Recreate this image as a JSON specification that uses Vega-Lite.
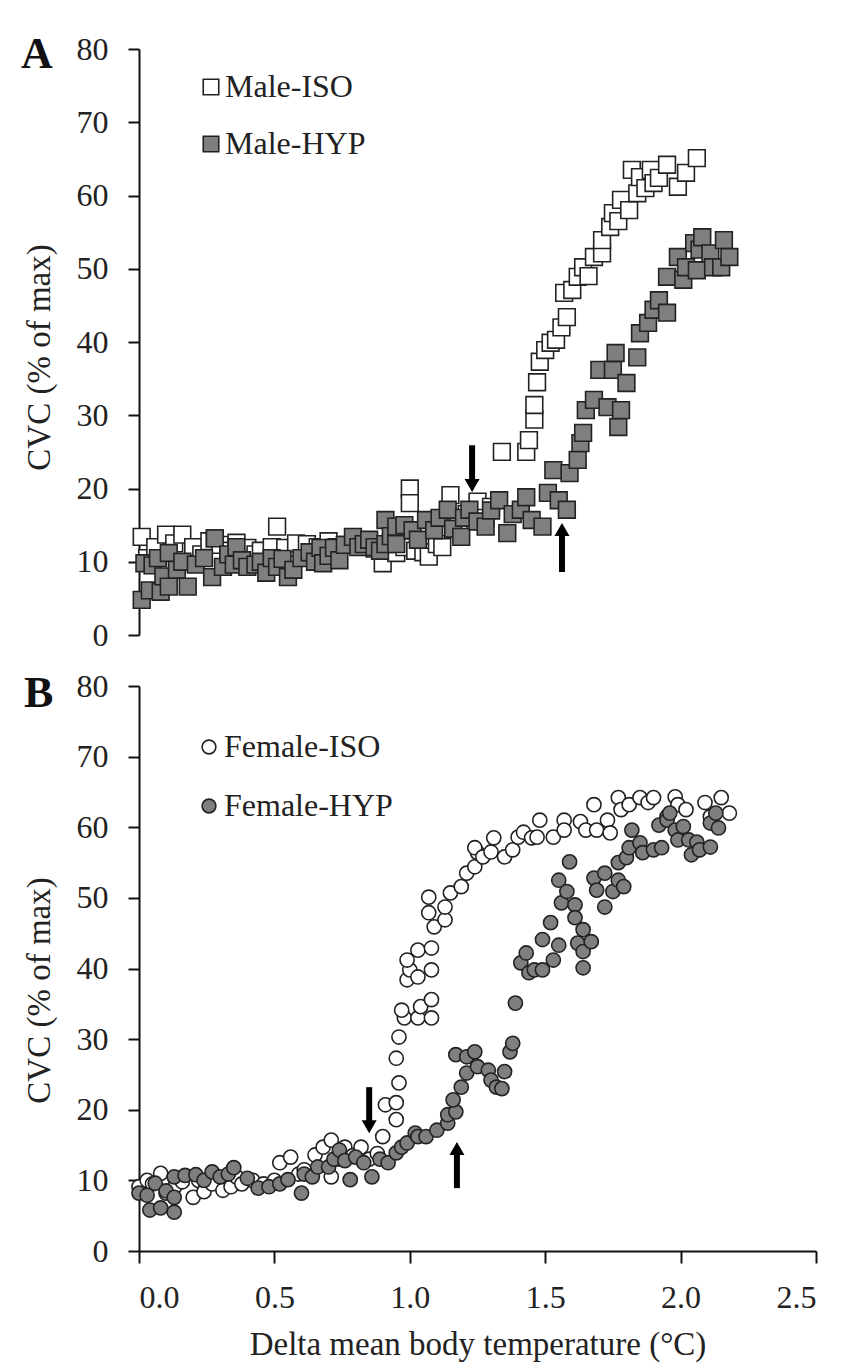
{
"$schema": "https://vega.github.io/schema/vega-lite/v6.json",
"background": "white",
"padding": {"left": 21, "top": 33, "right": 5, "bottom": 5},
"config": {
 "view": {"stroke": null},
 "font": "Liberation Serif",
 "axis": {"domainColor": "#111", "domainWidth": 2, "tickColor": "#111", "tickWidth": 2, "grid": false, "labelFont": "Liberation Serif", "labelFontSize": 32, "labelColor": "#222", "titleFont": "Liberation Serif", "titleFontSize": 33, "titleFontWeight": "normal", "titleColor": "#222"},
 "legend": {"labelFont": "Liberation Serif", "labelFontSize": 32, "labelColor": "#222", "labelLimit": 400, "symbolStrokeColor": "#222", "symbolStrokeWidth": 1.6, "rowPadding": 25, "padding": 0, "title": null},
 "title": {"font": "Liberation Serif", "fontSize": 44, "fontWeight": "bold", "color": "#111", "anchor": "start", "frame": "group"}
},
"datasets": {
 "male": [
  {"s":"Male-ISO","x":0.01,"y":13.4},{"s":"Male-ISO","x":0.03,"y":10.5},{"s":"Male-ISO","x":0.06,"y":12.0},{"s":"Male-ISO","x":0.10,"y":13.7},{"s":"Male-ISO","x":0.13,"y":12.5},{"s":"Male-ISO","x":0.16,"y":13.7},{"s":"Male-ISO","x":0.20,"y":12.0},{"s":"Male-ISO","x":0.23,"y":11.0},{"s":"Male-ISO","x":0.26,"y":12.8},{"s":"Male-ISO","x":0.28,"y":13.2},{"s":"Male-ISO","x":0.30,"y":12.3},{"s":"Male-ISO","x":0.33,"y":11.5},{"s":"Male-ISO","x":0.36,"y":12.6},{"s":"Male-ISO","x":0.40,"y":11.9},{"s":"Male-ISO","x":0.43,"y":11.0},{"s":"Male-ISO","x":0.45,"y":11.5},{"s":"Male-ISO","x":0.49,"y":12.0},{"s":"Male-ISO","x":0.51,"y":14.8},{"s":"Male-ISO","x":0.54,"y":11.9},{"s":"Male-ISO","x":0.58,"y":12.5},{"s":"Male-ISO","x":0.62,"y":12.4},{"s":"Male-ISO","x":0.66,"y":12.0},{"s":"Male-ISO","x":0.70,"y":12.8},{"s":"Male-ISO","x":0.73,"y":12.0},{"s":"Male-ISO","x":0.77,"y":12.3},{"s":"Male-ISO","x":0.80,"y":12.9},{"s":"Male-ISO","x":0.83,"y":12.5},{"s":"Male-ISO","x":0.87,"y":11.8},{"s":"Male-ISO","x":0.90,"y":9.8},{"s":"Male-ISO","x":0.93,"y":12.6},{"s":"Male-ISO","x":0.95,"y":11.2},{"s":"Male-ISO","x":0.98,"y":12.0},{"s":"Male-ISO","x":1.00,"y":20.0},{"s":"Male-ISO","x":1.00,"y":18.0},{"s":"Male-ISO","x":1.02,"y":11.5},{"s":"Male-ISO","x":1.05,"y":11.3},{"s":"Male-ISO","x":1.07,"y":10.7},{"s":"Male-ISO","x":1.10,"y":12.4},{"s":"Male-ISO","x":1.12,"y":12.0},{"s":"Male-ISO","x":1.15,"y":19.1},{"s":"Male-ISO","x":1.18,"y":15.0},{"s":"Male-ISO","x":1.21,"y":16.5},{"s":"Male-ISO","x":1.25,"y":18.2},{"s":"Male-ISO","x":1.28,"y":16.0},{"s":"Male-ISO","x":1.30,"y":17.5},{"s":"Male-ISO","x":1.34,"y":25.0},{"s":"Male-ISO","x":1.43,"y":25.0},{"s":"Male-ISO","x":1.44,"y":26.6},{"s":"Male-ISO","x":1.46,"y":29.4},{"s":"Male-ISO","x":1.46,"y":31.4},{"s":"Male-ISO","x":1.47,"y":34.5},{"s":"Male-ISO","x":1.48,"y":37.3},{"s":"Male-ISO","x":1.50,"y":38.9},{"s":"Male-ISO","x":1.52,"y":39.9},{"s":"Male-ISO","x":1.54,"y":40.3},{"s":"Male-ISO","x":1.56,"y":42.0},{"s":"Male-ISO","x":1.58,"y":43.4},{"s":"Male-ISO","x":1.57,"y":46.7},{"s":"Male-ISO","x":1.60,"y":47.1},{"s":"Male-ISO","x":1.62,"y":48.9},{"s":"Male-ISO","x":1.64,"y":50.2},{"s":"Male-ISO","x":1.66,"y":49.0},{"s":"Male-ISO","x":1.68,"y":51.6},{"s":"Male-ISO","x":1.71,"y":52.1},{"s":"Male-ISO","x":1.71,"y":53.9},{"s":"Male-ISO","x":1.74,"y":55.7},{"s":"Male-ISO","x":1.75,"y":57.6},{"s":"Male-ISO","x":1.77,"y":56.5},{"s":"Male-ISO","x":1.78,"y":59.4},{"s":"Male-ISO","x":1.81,"y":58.0},{"s":"Male-ISO","x":1.82,"y":63.5},{"s":"Male-ISO","x":1.84,"y":60.3},{"s":"Male-ISO","x":1.85,"y":62.5},{"s":"Male-ISO","x":1.87,"y":61.0},{"s":"Male-ISO","x":1.89,"y":63.5},{"s":"Male-ISO","x":1.90,"y":61.7},{"s":"Male-ISO","x":1.92,"y":62.4},{"s":"Male-ISO","x":1.95,"y":64.2},{"s":"Male-ISO","x":1.99,"y":61.2},{"s":"Male-ISO","x":2.02,"y":63.1},{"s":"Male-ISO","x":2.06,"y":65.1},
  {"s":"Male-HYP","x":0.01,"y":4.8},{"s":"Male-HYP","x":0.02,"y":9.8},{"s":"Male-HYP","x":0.04,"y":6.1},{"s":"Male-HYP","x":0.05,"y":9.5},{"s":"Male-HYP","x":0.07,"y":10.5},{"s":"Male-HYP","x":0.08,"y":5.9},{"s":"Male-HYP","x":0.09,"y":8.0},{"s":"Male-HYP","x":0.11,"y":6.6},{"s":"Male-HYP","x":0.11,"y":11.2},{"s":"Male-HYP","x":0.14,"y":8.9},{"s":"Male-HYP","x":0.16,"y":10.0},{"s":"Male-HYP","x":0.18,"y":6.6},{"s":"Male-HYP","x":0.21,"y":9.6},{"s":"Male-HYP","x":0.24,"y":10.5},{"s":"Male-HYP","x":0.27,"y":7.9},{"s":"Male-HYP","x":0.28,"y":13.2},{"s":"Male-HYP","x":0.31,"y":9.3},{"s":"Male-HYP","x":0.33,"y":11.0},{"s":"Male-HYP","x":0.35,"y":9.6},{"s":"Male-HYP","x":0.36,"y":12.0},{"s":"Male-HYP","x":0.38,"y":10.2},{"s":"Male-HYP","x":0.40,"y":9.3},{"s":"Male-HYP","x":0.43,"y":9.6},{"s":"Male-HYP","x":0.45,"y":10.0},{"s":"Male-HYP","x":0.47,"y":8.5},{"s":"Male-HYP","x":0.49,"y":10.5},{"s":"Male-HYP","x":0.51,"y":9.3},{"s":"Male-HYP","x":0.53,"y":10.4},{"s":"Male-HYP","x":0.55,"y":7.9},{"s":"Male-HYP","x":0.57,"y":8.9},{"s":"Male-HYP","x":0.60,"y":10.5},{"s":"Male-HYP","x":0.63,"y":11.3},{"s":"Male-HYP","x":0.65,"y":10.0},{"s":"Male-HYP","x":0.67,"y":11.9},{"s":"Male-HYP","x":0.68,"y":9.8},{"s":"Male-HYP","x":0.70,"y":10.8},{"s":"Male-HYP","x":0.72,"y":11.9},{"s":"Male-HYP","x":0.74,"y":10.2},{"s":"Male-HYP","x":0.76,"y":12.3},{"s":"Male-HYP","x":0.79,"y":13.4},{"s":"Male-HYP","x":0.81,"y":12.0},{"s":"Male-HYP","x":0.83,"y":12.4},{"s":"Male-HYP","x":0.85,"y":13.0},{"s":"Male-HYP","x":0.87,"y":12.0},{"s":"Male-HYP","x":0.89,"y":11.5},{"s":"Male-HYP","x":0.91,"y":15.7},{"s":"Male-HYP","x":0.91,"y":12.4},{"s":"Male-HYP","x":0.93,"y":13.5},{"s":"Male-HYP","x":0.95,"y":14.8},{"s":"Male-HYP","x":0.95,"y":12.4},{"s":"Male-HYP","x":0.98,"y":15.0},{"s":"Male-HYP","x":1.01,"y":14.3},{"s":"Male-HYP","x":1.03,"y":13.0},{"s":"Male-HYP","x":1.06,"y":15.7},{"s":"Male-HYP","x":1.09,"y":14.3},{"s":"Male-HYP","x":1.11,"y":16.0},{"s":"Male-HYP","x":1.14,"y":17.1},{"s":"Male-HYP","x":1.16,"y":14.5},{"s":"Male-HYP","x":1.19,"y":13.4},{"s":"Male-HYP","x":1.20,"y":16.0},{"s":"Male-HYP","x":1.22,"y":17.1},{"s":"Male-HYP","x":1.25,"y":15.5},{"s":"Male-HYP","x":1.28,"y":14.8},{"s":"Male-HYP","x":1.30,"y":17.0},{"s":"Male-HYP","x":1.33,"y":18.4},{"s":"Male-HYP","x":1.36,"y":13.9},{"s":"Male-HYP","x":1.38,"y":16.5},{"s":"Male-HYP","x":1.41,"y":17.1},{"s":"Male-HYP","x":1.43,"y":18.8},{"s":"Male-HYP","x":1.45,"y":15.7},{"s":"Male-HYP","x":1.49,"y":14.8},{"s":"Male-HYP","x":1.51,"y":19.4},{"s":"Male-HYP","x":1.53,"y":22.5},{"s":"Male-HYP","x":1.55,"y":18.4},{"s":"Male-HYP","x":1.58,"y":17.1},{"s":"Male-HYP","x":1.59,"y":22.1},{"s":"Male-HYP","x":1.62,"y":23.9},{"s":"Male-HYP","x":1.63,"y":26.2},{"s":"Male-HYP","x":1.64,"y":27.6},{"s":"Male-HYP","x":1.65,"y":30.7},{"s":"Male-HYP","x":1.68,"y":32.1},{"s":"Male-HYP","x":1.70,"y":36.2},{"s":"Male-HYP","x":1.73,"y":31.1},{"s":"Male-HYP","x":1.75,"y":36.2},{"s":"Male-HYP","x":1.76,"y":38.5},{"s":"Male-HYP","x":1.77,"y":28.4},{"s":"Male-HYP","x":1.78,"y":30.7},{"s":"Male-HYP","x":1.80,"y":34.4},{"s":"Male-HYP","x":1.84,"y":37.9},{"s":"Male-HYP","x":1.85,"y":41.2},{"s":"Male-HYP","x":1.88,"y":42.6},{"s":"Male-HYP","x":1.90,"y":44.4},{"s":"Male-HYP","x":1.92,"y":45.7},{"s":"Male-HYP","x":1.95,"y":44.0},{"s":"Male-HYP","x":1.95,"y":48.9},{"s":"Male-HYP","x":1.99,"y":51.6},{"s":"Male-HYP","x":2.01,"y":48.5},{"s":"Male-HYP","x":2.02,"y":50.2},{"s":"Male-HYP","x":2.05,"y":53.5},{"s":"Male-HYP","x":2.06,"y":49.8},{"s":"Male-HYP","x":2.07,"y":52.6},{"s":"Male-HYP","x":2.08,"y":54.3},{"s":"Male-HYP","x":2.11,"y":52.1},{"s":"Male-HYP","x":2.12,"y":50.2},{"s":"Male-HYP","x":2.15,"y":50.2},{"s":"Male-HYP","x":2.16,"y":53.9},{"s":"Male-HYP","x":2.18,"y":51.6}
 ],
 "female": [
  {"s":"Female-ISO","x":0.00,"y":9.1},{"s":"Female-ISO","x":0.03,"y":10.0},{"s":"Female-ISO","x":0.05,"y":9.5},{"s":"Female-ISO","x":0.08,"y":11.0},{"s":"Female-ISO","x":0.10,"y":8.2},{"s":"Female-ISO","x":0.13,"y":9.0},{"s":"Female-ISO","x":0.16,"y":9.8},{"s":"Female-ISO","x":0.20,"y":7.6},{"s":"Female-ISO","x":0.22,"y":10.0},{"s":"Female-ISO","x":0.24,"y":8.4},{"s":"Female-ISO","x":0.27,"y":9.5},{"s":"Female-ISO","x":0.31,"y":8.6},{"s":"Female-ISO","x":0.34,"y":9.1},{"s":"Female-ISO","x":0.36,"y":10.5},{"s":"Female-ISO","x":0.38,"y":9.5},{"s":"Female-ISO","x":0.42,"y":10.0},{"s":"Female-ISO","x":0.46,"y":9.5},{"s":"Female-ISO","x":0.50,"y":10.0},{"s":"Female-ISO","x":0.52,"y":12.5},{"s":"Female-ISO","x":0.56,"y":13.3},{"s":"Female-ISO","x":0.59,"y":10.9},{"s":"Female-ISO","x":0.61,"y":11.5},{"s":"Female-ISO","x":0.65,"y":13.6},{"s":"Female-ISO","x":0.68,"y":14.7},{"s":"Female-ISO","x":0.71,"y":15.7},{"s":"Female-ISO","x":0.71,"y":10.5},{"s":"Female-ISO","x":0.74,"y":13.0},{"s":"Female-ISO","x":0.76,"y":14.7},{"s":"Female-ISO","x":0.79,"y":13.5},{"s":"Female-ISO","x":0.82,"y":14.7},{"s":"Female-ISO","x":0.85,"y":13.0},{"s":"Female-ISO","x":0.88,"y":13.8},{"s":"Female-ISO","x":0.90,"y":16.2},{"s":"Female-ISO","x":0.91,"y":20.7},{"s":"Female-ISO","x":0.95,"y":18.6},{"s":"Female-ISO","x":0.95,"y":21.0},{"s":"Female-ISO","x":0.96,"y":23.8},{"s":"Female-ISO","x":0.95,"y":27.3},{"s":"Female-ISO","x":0.96,"y":30.3},{"s":"Female-ISO","x":0.98,"y":33.0},{"s":"Female-ISO","x":0.97,"y":34.1},{"s":"Female-ISO","x":0.99,"y":38.4},{"s":"Female-ISO","x":1.00,"y":39.8},{"s":"Female-ISO","x":0.99,"y":41.2},{"s":"Female-ISO","x":1.03,"y":33.0},{"s":"Female-ISO","x":1.04,"y":34.6},{"s":"Female-ISO","x":1.03,"y":38.8},{"s":"Female-ISO","x":1.03,"y":42.6},{"s":"Female-ISO","x":1.08,"y":33.0},{"s":"Female-ISO","x":1.08,"y":35.6},{"s":"Female-ISO","x":1.08,"y":39.8},{"s":"Female-ISO","x":1.08,"y":42.9},{"s":"Female-ISO","x":1.09,"y":45.9},{"s":"Female-ISO","x":1.07,"y":47.9},{"s":"Female-ISO","x":1.07,"y":50.1},{"s":"Female-ISO","x":1.13,"y":46.9},{"s":"Female-ISO","x":1.13,"y":48.7},{"s":"Female-ISO","x":1.15,"y":50.7},{"s":"Female-ISO","x":1.19,"y":51.6},{"s":"Female-ISO","x":1.21,"y":53.5},{"s":"Female-ISO","x":1.24,"y":54.4},{"s":"Female-ISO","x":1.25,"y":56.4},{"s":"Female-ISO","x":1.24,"y":57.1},{"s":"Female-ISO","x":1.27,"y":55.8},{"s":"Female-ISO","x":1.30,"y":56.5},{"s":"Female-ISO","x":1.31,"y":58.5},{"s":"Female-ISO","x":1.35,"y":55.8},{"s":"Female-ISO","x":1.38,"y":56.8},{"s":"Female-ISO","x":1.40,"y":58.6},{"s":"Female-ISO","x":1.42,"y":59.3},{"s":"Female-ISO","x":1.45,"y":58.5},{"s":"Female-ISO","x":1.47,"y":58.6},{"s":"Female-ISO","x":1.48,"y":61.0},{"s":"Female-ISO","x":1.53,"y":58.6},{"s":"Female-ISO","x":1.57,"y":61.0},{"s":"Female-ISO","x":1.57,"y":59.6},{"s":"Female-ISO","x":1.63,"y":60.8},{"s":"Female-ISO","x":1.65,"y":59.6},{"s":"Female-ISO","x":1.68,"y":63.2},{"s":"Female-ISO","x":1.69,"y":59.6},{"s":"Female-ISO","x":1.73,"y":61.0},{"s":"Female-ISO","x":1.74,"y":59.2},{"s":"Female-ISO","x":1.77,"y":64.2},{"s":"Female-ISO","x":1.78,"y":62.5},{"s":"Female-ISO","x":1.81,"y":63.2},{"s":"Female-ISO","x":1.85,"y":64.2},{"s":"Female-ISO","x":1.88,"y":63.5},{"s":"Female-ISO","x":1.90,"y":64.2},{"s":"Female-ISO","x":1.95,"y":61.5},{"s":"Female-ISO","x":1.98,"y":64.3},{"s":"Female-ISO","x":1.99,"y":63.2},{"s":"Female-ISO","x":2.02,"y":62.5},{"s":"Female-ISO","x":2.09,"y":63.5},{"s":"Female-ISO","x":2.11,"y":61.5},{"s":"Female-ISO","x":2.15,"y":64.2},{"s":"Female-ISO","x":2.18,"y":62.0},
  {"s":"Female-HYP","x":0.00,"y":8.2},{"s":"Female-HYP","x":0.03,"y":7.9},{"s":"Female-HYP","x":0.04,"y":5.8},{"s":"Female-HYP","x":0.06,"y":9.6},{"s":"Female-HYP","x":0.08,"y":6.1},{"s":"Female-HYP","x":0.10,"y":8.5},{"s":"Female-HYP","x":0.13,"y":7.6},{"s":"Female-HYP","x":0.13,"y":5.5},{"s":"Female-HYP","x":0.13,"y":10.5},{"s":"Female-HYP","x":0.17,"y":10.7},{"s":"Female-HYP","x":0.21,"y":10.8},{"s":"Female-HYP","x":0.24,"y":10.0},{"s":"Female-HYP","x":0.27,"y":11.2},{"s":"Female-HYP","x":0.30,"y":10.5},{"s":"Female-HYP","x":0.33,"y":10.9},{"s":"Female-HYP","x":0.35,"y":11.8},{"s":"Female-HYP","x":0.40,"y":10.3},{"s":"Female-HYP","x":0.44,"y":8.9},{"s":"Female-HYP","x":0.48,"y":9.1},{"s":"Female-HYP","x":0.52,"y":9.5},{"s":"Female-HYP","x":0.55,"y":10.1},{"s":"Female-HYP","x":0.60,"y":8.2},{"s":"Female-HYP","x":0.61,"y":10.9},{"s":"Female-HYP","x":0.64,"y":10.5},{"s":"Female-HYP","x":0.66,"y":11.9},{"s":"Female-HYP","x":0.70,"y":11.9},{"s":"Female-HYP","x":0.72,"y":13.0},{"s":"Female-HYP","x":0.74,"y":14.3},{"s":"Female-HYP","x":0.76,"y":12.8},{"s":"Female-HYP","x":0.78,"y":10.1},{"s":"Female-HYP","x":0.80,"y":13.3},{"s":"Female-HYP","x":0.83,"y":12.5},{"s":"Female-HYP","x":0.86,"y":10.5},{"s":"Female-HYP","x":0.89,"y":13.0},{"s":"Female-HYP","x":0.92,"y":12.5},{"s":"Female-HYP","x":0.95,"y":13.9},{"s":"Female-HYP","x":0.97,"y":14.7},{"s":"Female-HYP","x":0.99,"y":15.3},{"s":"Female-HYP","x":1.02,"y":16.7},{"s":"Female-HYP","x":1.03,"y":16.2},{"s":"Female-HYP","x":1.06,"y":16.2},{"s":"Female-HYP","x":1.10,"y":17.1},{"s":"Female-HYP","x":1.14,"y":18.1},{"s":"Female-HYP","x":1.14,"y":19.3},{"s":"Female-HYP","x":1.17,"y":19.7},{"s":"Female-HYP","x":1.16,"y":21.4},{"s":"Female-HYP","x":1.19,"y":23.2},{"s":"Female-HYP","x":1.21,"y":25.2},{"s":"Female-HYP","x":1.17,"y":27.8},{"s":"Female-HYP","x":1.21,"y":27.5},{"s":"Female-HYP","x":1.24,"y":28.2},{"s":"Female-HYP","x":1.25,"y":26.1},{"s":"Female-HYP","x":1.29,"y":25.6},{"s":"Female-HYP","x":1.30,"y":24.2},{"s":"Female-HYP","x":1.32,"y":23.2},{"s":"Female-HYP","x":1.34,"y":23.0},{"s":"Female-HYP","x":1.35,"y":25.4},{"s":"Female-HYP","x":1.37,"y":28.2},{"s":"Female-HYP","x":1.38,"y":29.4},{"s":"Female-HYP","x":1.39,"y":35.1},{"s":"Female-HYP","x":1.41,"y":40.8},{"s":"Female-HYP","x":1.43,"y":42.2},{"s":"Female-HYP","x":1.44,"y":39.4},{"s":"Female-HYP","x":1.46,"y":39.8},{"s":"Female-HYP","x":1.49,"y":44.1},{"s":"Female-HYP","x":1.49,"y":39.8},{"s":"Female-HYP","x":1.52,"y":46.5},{"s":"Female-HYP","x":1.53,"y":41.2},{"s":"Female-HYP","x":1.55,"y":43.3},{"s":"Female-HYP","x":1.55,"y":52.5},{"s":"Female-HYP","x":1.56,"y":49.3},{"s":"Female-HYP","x":1.58,"y":50.9},{"s":"Female-HYP","x":1.59,"y":55.1},{"s":"Female-HYP","x":1.61,"y":49.0},{"s":"Female-HYP","x":1.61,"y":47.2},{"s":"Female-HYP","x":1.62,"y":43.6},{"s":"Female-HYP","x":1.64,"y":45.5},{"s":"Female-HYP","x":1.64,"y":42.4},{"s":"Female-HYP","x":1.64,"y":40.1},{"s":"Female-HYP","x":1.67,"y":43.8},{"s":"Female-HYP","x":1.68,"y":52.8},{"s":"Female-HYP","x":1.69,"y":51.1},{"s":"Female-HYP","x":1.72,"y":53.5},{"s":"Female-HYP","x":1.72,"y":48.7},{"s":"Female-HYP","x":1.75,"y":50.9},{"s":"Female-HYP","x":1.77,"y":52.5},{"s":"Female-HYP","x":1.77,"y":55.0},{"s":"Female-HYP","x":1.79,"y":51.6},{"s":"Female-HYP","x":1.80,"y":55.7},{"s":"Female-HYP","x":1.81,"y":57.1},{"s":"Female-HYP","x":1.82,"y":59.6},{"s":"Female-HYP","x":1.85,"y":57.8},{"s":"Female-HYP","x":1.86,"y":56.4},{"s":"Female-HYP","x":1.90,"y":56.8},{"s":"Female-HYP","x":1.92,"y":60.3},{"s":"Female-HYP","x":1.93,"y":57.1},{"s":"Female-HYP","x":1.95,"y":61.0},{"s":"Female-HYP","x":1.96,"y":62.0},{"s":"Female-HYP","x":1.98,"y":59.6},{"s":"Female-HYP","x":1.99,"y":58.2},{"s":"Female-HYP","x":2.01,"y":60.1},{"s":"Female-HYP","x":2.03,"y":58.2},{"s":"Female-HYP","x":2.04,"y":56.1},{"s":"Female-HYP","x":2.06,"y":57.9},{"s":"Female-HYP","x":2.07,"y":56.8},{"s":"Female-HYP","x":2.11,"y":57.2},{"s":"Female-HYP","x":2.11,"y":60.6},{"s":"Female-HYP","x":2.13,"y":62.0},{"s":"Female-HYP","x":2.14,"y":59.9}
 ],
 "arrowsA": [{"x":1.23,"y1":25.9,"y2":20.4,"dir":"down"},{"x":1.562,"y1":8.6,"y2":14.4,"dir":"up"}],
 "arrowsB": [{"x":0.85,"y1":23.2,"y2":17.6,"dir":"down"},{"x":1.174,"y1":8.9,"y2":14.5,"dir":"up"}]
},
"spacing": 51,
"bounds": "flush",
"resolve": {"scale": {"color": "independent", "shape": "independent", "x": "independent", "y": "independent"}},
"vconcat": [
 {
  "width": 677, "height": 586,
  "title": {"text": "A", "dx": -118, "dy": 79, "offset": 0, "baseline": "alphabetic"},
  "layer": [
   {"data": {"name": "male"},
    "mark": {"type": "point", "shape": "square", "filled": true, "stroke": "#222", "strokeWidth": 1.6, "size": 280, "opacity": 1},
    "encoding": {
     "x": {"field": "x", "type": "quantitative", "scale": {"domain": [0, 2.5], "nice": false}, "axis": null},
     "y": {"field": "y", "type": "quantitative", "scale": {"domain": [0, 80], "nice": false}, "title": "CVC (% of max)", "axis": {"values": [0,10,20,30,40,50,60,70,80], "tickSize": 11, "labelPadding": 20, "titlePadding": 20, "titleY": 308}},
     "color": {"field": "s", "type": "nominal", "sort": null, "scale": {"domain": ["Male-ISO","Male-HYP"], "range": ["#ffffff","#7f7f7f"]}, "legend": {"orient": "none", "legendX": 56, "legendY": 22, "symbolType": "square", "symbolSize": 240, "labelOffset": -2}}
    }},
   {"data": {"name": "arrowsA"},
    "mark": {"type": "rule", "strokeWidth": 6, "color": "#000", "strokeCap": "butt"},
    "encoding": {"x": {"field": "x", "type": "quantitative"}, "y": {"field": "y1", "type": "quantitative", "title": "CVC (% of max)"}, "y2": {"field": "y2"}}},
   {"data": {"name": "arrowsA"},
    "mark": {"type": "point", "filled": true, "color": "#000", "size": 225, "opacity": 1},
    "encoding": {"x": {"field": "x", "type": "quantitative"}, "y": {"field": "y2", "type": "quantitative", "title": "CVC (% of max)"},
     "shape": {"field": "dir", "type": "nominal", "scale": {"domain": ["down","up"], "range": ["triangle-down","triangle-up"]}, "legend": null}}}
  ]
 },
 {
  "width": 677, "height": 565,
  "title": {"text": "B", "dx": -115, "dy": 81, "offset": 0, "baseline": "alphabetic"},
  "layer": [
   {"data": {"name": "female"},
    "mark": {"type": "point", "shape": "circle", "filled": true, "stroke": "#222", "strokeWidth": 1.6, "size": 200, "opacity": 1},
    "encoding": {
     "x": {"field": "x", "type": "quantitative", "scale": {"domain": [0, 2.5], "nice": false}, "title": "Delta mean body temperature (°C)", "axis": {"values": [0,0.5,1,1.5,2,2.5], "format": ".1f", "tickSize": 12, "labelPadding": 19, "titlePadding": 15}},
     "y": {"field": "y", "type": "quantitative", "scale": {"domain": [0, 80], "nice": false}, "title": "CVC (% of max)", "axis": {"values": [0,10,20,30,40,50,60,70,80], "tickSize": 11, "labelPadding": 20, "titlePadding": 20, "titleY": 304}},
     "color": {"field": "s", "type": "nominal", "sort": null, "scale": {"domain": ["Female-ISO","Female-HYP"], "range": ["#ffffff","#7f7f7f"]}, "legend": {"orient": "none", "legendX": 54, "legendY": 45, "symbolType": "circle", "symbolSize": 190, "labelOffset": -1, "rowPadding": 27}}
    }},
   {"data": {"name": "arrowsB"},
    "mark": {"type": "rule", "strokeWidth": 6, "color": "#000", "strokeCap": "butt"},
    "encoding": {"x": {"field": "x", "type": "quantitative", "title": "Delta mean body temperature (°C)"}, "y": {"field": "y1", "type": "quantitative", "title": "CVC (% of max)"}, "y2": {"field": "y2"}}},
   {"data": {"name": "arrowsB"},
    "mark": {"type": "point", "filled": true, "color": "#000", "size": 225, "opacity": 1},
    "encoding": {"x": {"field": "x", "type": "quantitative", "title": "Delta mean body temperature (°C)"}, "y": {"field": "y2", "type": "quantitative", "title": "CVC (% of max)"},
     "shape": {"field": "dir", "type": "nominal", "scale": {"domain": ["down","up"], "range": ["triangle-down","triangle-up"]}, "legend": null}}}
  ]
 }
]
}
